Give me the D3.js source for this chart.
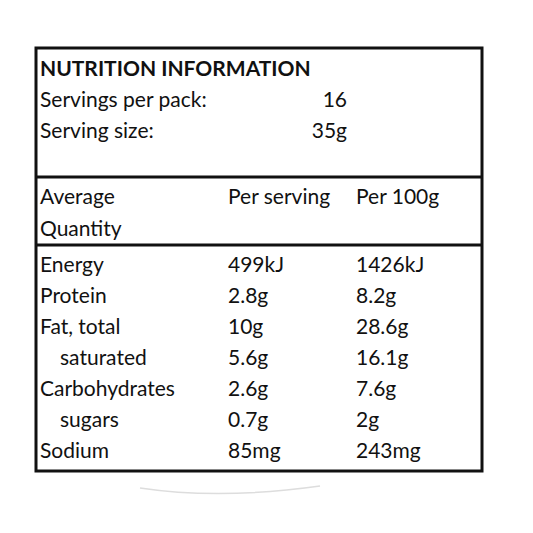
<!DOCTYPE html><html><head><meta charset="utf-8"><script src="https://d3js.org/d3.v7.min.js"></script>
<style>body{margin:0;background:#fff}</style></head><body><svg id="c" width="533" height="533"></svg>
<script>
const title = "NUTRITION INFORMATION";
const headerLabels = ["Servings per pack:", "Serving size:"];
const headerValues = ["16", "35g"];
const columns = ["Per serving", "Per 100g"];
const nutrients = ["Energy","Protein","Fat, total","saturated","Carbohydrates","sugars","Sodium"];
const indented = [false,false,false,true,false,true,false];
const perServing = ["499kJ","2.8g","10g","5.6g","2.6g","0.7g","85mg"];
const per100g = ["1426kJ","8.2g","28.6g","16.1g","7.6g","2g","243mg"];

const svg = d3.select("#c");
const F = "Lato, 'Open Sans', sans-serif";
const g = svg.append("g").attr("font-family", F).attr("font-size", 21).attr("fill", "#111");
const y = d3.scalePoint().domain(d3.range(nutrients.length)).range([272, 458]);
// box and rules
svg.append("rect").attr("x",36).attr("y",48).attr("width",446).attr("height",423).attr("fill","none").attr("stroke","#111").attr("stroke-width",3);
[177,245].forEach(v=>svg.append("line").attr("x1",36).attr("x2",482).attr("y1",v).attr("y2",v).attr("stroke","#111").attr("stroke-width",3));
g.append("text").attr("x",40).attr("y",76).attr("font-weight","bold").text(title);
g.selectAll(".hl").data(headerLabels).join("text").attr("x",40).attr("y",(d,i)=>107+31*i).text(d=>d);
g.selectAll(".hv").data(headerValues).join("text").attr("x",347).attr("y",(d,i)=>107+31*i).attr("text-anchor","end").text(d=>d);
g.append("text").attr("x",40).attr("y",204).text("Average");
g.append("text").attr("x",40).attr("y",236).text("Quantity");
g.selectAll(".col").data(columns).join("text").attr("x",(d,i)=>i?356:228).attr("y",204).text(d=>d);
g.selectAll(".n").data(nutrients).join("text").attr("x",(d,i)=>indented[i]?60:40).attr("y",(d,i)=>y(i)).text(d=>d);
g.selectAll(".ps").data(perServing).join("text").attr("x",228).attr("y",(d,i)=>y(i)).text(d=>d);
g.selectAll(".pc").data(per100g).join("text").attr("x",356).attr("y",(d,i)=>y(i)).text(d=>d);
svg.append("path").attr("d","M140,488 Q220,500 320,486").attr("stroke","#ddd").attr("fill","none").attr("stroke-width",1.5);
</script></body></html>
